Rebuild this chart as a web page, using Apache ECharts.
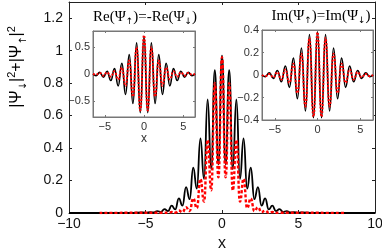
<!DOCTYPE html>
<html><head><meta charset="utf-8">
<script src="https://cdn.jsdelivr.net/npm/echarts@6/dist/echarts.min.js"></script>
<style>html,body{margin:0;padding:0;background:#fff}#c{width:382px;height:249px}</style>
</head><body><div id="c"></div>
<script>
// ---- main panel data ----
const mainX = [-10, -6, -5.17, -4.935, -4.7, -4.465, -4.23, -3.995, -3.76, -3.525, -3.29, -3.055, -2.82, -2.585, -2.35, -2.115, -1.88, -1.645, -1.41, -1.175, -0.94, -0.705, -0.47, -0.235, 0, 0.235, 0.47, 0.705, 0.94, 1.175, 1.41, 1.645, 1.88, 2.115, 2.35, 2.585, 2.82, 3.055, 3.29, 3.525, 3.76, 3.995, 4.23, 4.465, 4.7, 4.935, 5.17, 6, 10];
const mainBlack = [0, 0, 0.003, 0.001, 0.006, 0.003, 0.012, 0.006, 0.024, 0.012, 0.045, 0.022, 0.09, 0.045, 0.16, 0.085, 0.28, 0.15, 0.46, 0.21, 0.70, 0.27, 0.88, 0.30, 0.97, 0.30, 0.88, 0.27, 0.70, 0.21, 0.46, 0.15, 0.28, 0.085, 0.16, 0.045, 0.09, 0.022, 0.045, 0.012, 0.024, 0.006, 0.012, 0.003, 0.006, 0.001, 0.003, 0, 0];
const redX = [-8, -3.76, -3.525, -3.29, -3.055, -2.82, -2.585, -2.35, -2.115, -1.88, -1.645, -1.41, -1.175, -0.94, -0.705, -0.47, -0.235, 0, 0.235, 0.47, 0.705, 0.94, 1.175, 1.41, 1.645, 1.88, 2.115, 2.35, 2.585, 2.82, 3.055, 3.29, 3.525, 3.76, 8];
const mainRed = [0, 0.002, 0.0005, 0.006, 0.002, 0.015, 0.005, 0.035, 0.012, 0.09, 0.03, 0.21, 0.07, 0.45, 0.14, 0.80, 0.22, 0.96, 0.22, 0.80, 0.14, 0.45, 0.07, 0.21, 0.03, 0.09, 0.012, 0.035, 0.005, 0.015, 0.002, 0.006, 0.0005, 0.002, 0];
const mainXTicks = [-10, -5, 0, 5, 10];
const mainYTicks = [0, 0.2, 0.4, 0.6, 0.8, 1, 1.2];

// ---- inset data ----
const insetX = [-6.5, -6.11, -5.64, -5.17, -4.7, -4.23, -3.76, -3.29, -2.82, -2.35, -1.88, -1.41, -0.94, -0.47, 0, 0.47, 0.94, 1.41, 1.88, 2.35, 2.82, 3.29, 3.76, 4.23, 4.7, 5.17, 5.64, 6.11, 6.5];
const reBlack = [0, -0.03, 0.03, -0.06, 0.05, -0.12, 0.10, -0.22, 0.20, -0.38, 0.36, -0.55, 0.58, -0.72, 0.70, -0.72, 0.58, -0.55, 0.36, -0.38, 0.20, -0.22, 0.10, -0.12, 0.05, -0.06, 0.03, -0.03, 0];
const reRed = [0, -0.01, 0.02, -0.03, 0.03, -0.05, 0.05, -0.10, 0.12, -0.22, 0.25, -0.42, 0.50, -0.68, 0.72, -0.68, 0.50, -0.42, 0.25, -0.22, 0.12, -0.10, 0.05, -0.05, 0.03, -0.03, 0.02, -0.01, 0];
const imBlack = [0, -0.015, 0.02, -0.03, 0.04, -0.06, 0.08, -0.11, 0.15, -0.21, 0.24, -0.32, 0.36, -0.38, 0.38, -0.38, 0.36, -0.32, 0.24, -0.21, 0.15, -0.11, 0.08, -0.06, 0.04, -0.03, 0.02, -0.015, 0];
const imRed = [0, -0.01, 0.01, -0.02, 0.025, -0.04, 0.05, -0.07, 0.10, -0.16, 0.19, -0.28, 0.33, -0.37, 0.38, -0.37, 0.33, -0.28, 0.19, -0.16, 0.10, -0.07, 0.05, -0.04, 0.025, -0.02, 0.01, -0.01, 0];
const insetXTicks = [-5, 0, 5];
const reYTicks = [-0.5, 0, 0.5];
const imYTicks = [-0.4, -0.2, 0, 0.2, 0.4];

const zip = (xs, ys) => xs.map((x, i) => [x, ys[i]]);
const minus = v => String(v).replace('-', '\u2212');

const chart = echarts.init(document.getElementById('c'), null, {renderer: 'canvas'});

const mainFont = 'Liberation Sans';
function mainAxisX(pos, show) {
  return {
    type: 'value', gridIndex: 0, position: pos, min: -10, max: 10, interval: 5,
    axisLine: {show: true, onZero: false, lineStyle: {color: '#222', width: 1}},
    axisTick: {show: true, inside: true, length: 3, lineStyle: {color: '#222'}},
    axisLabel: {show: show, customValues: mainXTicks, formatter: minus, fontFamily: mainFont, fontSize: 14, color: '#111', margin: 4},
    splitLine: {show: false},
    name: show ? 'x' : '', nameLocation: 'middle', nameGap: 23,
    nameTextStyle: {fontFamily: mainFont, fontSize: 16, color: '#111'}
  };
}
function mainAxisY(pos, show) {
  return {
    type: 'value', gridIndex: 0, position: pos, min: 0, max: 1.3, interval: 0.2,
    axisLine: {show: true, onZero: false, lineStyle: {color: '#222', width: 1}},
    axisTick: {show: true, inside: true, length: 3, customValues: mainYTicks, lineStyle: {color: '#222'}},
    axisLabel: {show: show, customValues: mainYTicks, fontFamily: mainFont, fontSize: 14, color: '#111', margin: 6},
    splitLine: {show: false}
  };
}
function insetAxisX(gi, pos, show, withName) {
  return {
    type: 'value', gridIndex: gi, position: pos, min: -6.5, max: 6.5, z: 6,
    axisLine: {show: true, onZero: false, lineStyle: {color: '#777', width: 1}},
    axisTick: {show: true, inside: true, length: 2, customValues: insetXTicks, lineStyle: {color: '#777'}},
    axisLabel: {show: show, customValues: insetXTicks, formatter: minus, fontFamily: mainFont, fontSize: 11, color: '#333', margin: 4},
    splitLine: {show: false},
    name: withName ? 'x' : '', nameLocation: 'middle', nameGap: 15,
    nameTextStyle: {fontFamily: mainFont, fontSize: 12, color: '#333'}
  };
}
function insetAxisY(gi, pos, show, lo, hi, ticks) {
  return {
    type: 'value', gridIndex: gi, position: pos, min: lo, max: hi, z: 6,
    axisLine: {show: true, onZero: false, lineStyle: {color: '#777', width: 1}},
    axisTick: {show: true, inside: true, length: 2, customValues: ticks, lineStyle: {color: '#777'}},
    axisLabel: {show: show, customValues: ticks, formatter: minus, fontFamily: mainFont, fontSize: 11, color: '#333', margin: 3},
    splitLine: {show: false}
  };
}

chart.setOption({
  animation: false,
  backgroundColor: '#fff',
  grid: [
    {left: 69, top: 2, width: 306, height: 211, show: false, outerBoundsMode: 'none', containLabel: false},
    {left: 93, top: 31, width: 102, height: 86, show: true, backgroundColor: '#fff', borderColor: '#777', borderWidth: 1, z: 5, outerBoundsMode: 'none', containLabel: false},
    {left: 262, top: 30, width: 111, height: 90, show: true, backgroundColor: '#fff', borderColor: '#777', borderWidth: 1, z: 5, outerBoundsMode: 'none', containLabel: false}
  ],
  xAxis: [
    mainAxisX('bottom', true), mainAxisX('top', false),
    insetAxisX(1, 'bottom', true, true), insetAxisX(1, 'top', false, false),
    insetAxisX(2, 'bottom', true, false), insetAxisX(2, 'top', false, false)
  ],
  yAxis: [
    mainAxisY('left', true), mainAxisY('right', false),
    insetAxisY(1, 'left', true, -0.8, 0.8, reYTicks), insetAxisY(1, 'right', false, -0.8, 0.8, reYTicks),
    insetAxisY(2, 'left', true, -0.4, 0.4, imYTicks), insetAxisY(2, 'right', false, -0.4, 0.4, imYTicks)
  ],
  series: [
    {type: 'line', xAxisIndex: 0, yAxisIndex: 0, data: zip(mainX, mainBlack), smooth: 0.5, smoothMonotone: 'x', showSymbol: false, z: 2,
     lineStyle: {color: '#000', width: 1.8}},
    {type: 'line', xAxisIndex: 0, yAxisIndex: 0, data: zip(redX, mainRed), smooth: 0.5, smoothMonotone: 'x', showSymbol: false, z: 3,
     lineStyle: {color: '#ff0000', width: 2.4, type: [3, 2]}},
    {type: 'line', xAxisIndex: 2, yAxisIndex: 2, data: zip(insetX, reBlack), smooth: 0.5, smoothMonotone: 'x', showSymbol: false, z: 7,
     lineStyle: {color: '#000', width: 1.6}},
    {type: 'line', xAxisIndex: 2, yAxisIndex: 2, data: zip(insetX, reRed), smooth: 0.5, smoothMonotone: 'x', showSymbol: false, z: 8,
     lineStyle: {color: '#ff0000', width: 2, type: [2, 1.5]}},
    {type: 'line', xAxisIndex: 4, yAxisIndex: 4, data: zip(insetX, imBlack), smooth: 0.5, smoothMonotone: 'x', showSymbol: false, z: 7,
     lineStyle: {color: '#000', width: 1.6}},
    {type: 'line', xAxisIndex: 4, yAxisIndex: 4, data: zip(insetX, imRed), smooth: 0.5, smoothMonotone: 'x', showSymbol: false, z: 8,
     lineStyle: {color: '#ff0000', width: 2, type: [2, 1.5]}}
  ],
  graphic: [
    {type: 'text', x: 145, y: 17, z: 20, style: {
      text: '{a|Re(\u03a8}{s|\u2191}{a|)=-Re(\u03a8}{s|\u2193}{a|)}',
      align: 'center', verticalAlign: 'middle',
      rich: {a: {fontFamily: 'Liberation Serif', fontSize: 15, lineHeight: 18, color: '#111'},
             s: {fontFamily: 'DejaVu Sans', fontSize: 9, verticalAlign: 'bottom', lineHeight: 13, color: '#111'}}}},
    {type: 'text', x: 321, y: 16, z: 20, style: {
      text: '{a|Im(\u03a8}{s|\u2191}{a|)=Im(\u03a8}{s|\u2193}{a|)}',
      align: 'center', verticalAlign: 'middle',
      rich: {a: {fontFamily: 'Liberation Serif', fontSize: 15, lineHeight: 18, color: '#111'},
             s: {fontFamily: 'DejaVu Sans', fontSize: 9, verticalAlign: 'bottom', lineHeight: 13, color: '#111'}}}},
    {type: 'text', x: 17, y: 67, rotation: Math.PI / 2, z: 20, style: {
      text: '{a||\u03a8}{s|\u2193}{a||}{p|2}{a|+|\u03a8}{s|\u2191}{a||}{p|2}',
      align: 'center', verticalAlign: 'middle',
      rich: {a: {fontFamily: mainFont, fontSize: 16, lineHeight: 22, color: '#111'},
             s: {fontFamily: 'DejaVu Sans', fontSize: 10, verticalAlign: 'bottom', lineHeight: 16, color: '#111'},
             p: {fontFamily: mainFont, fontSize: 11, verticalAlign: 'top', lineHeight: 14, color: '#111'}}}}
  ]
});
</script>
</body></html>
